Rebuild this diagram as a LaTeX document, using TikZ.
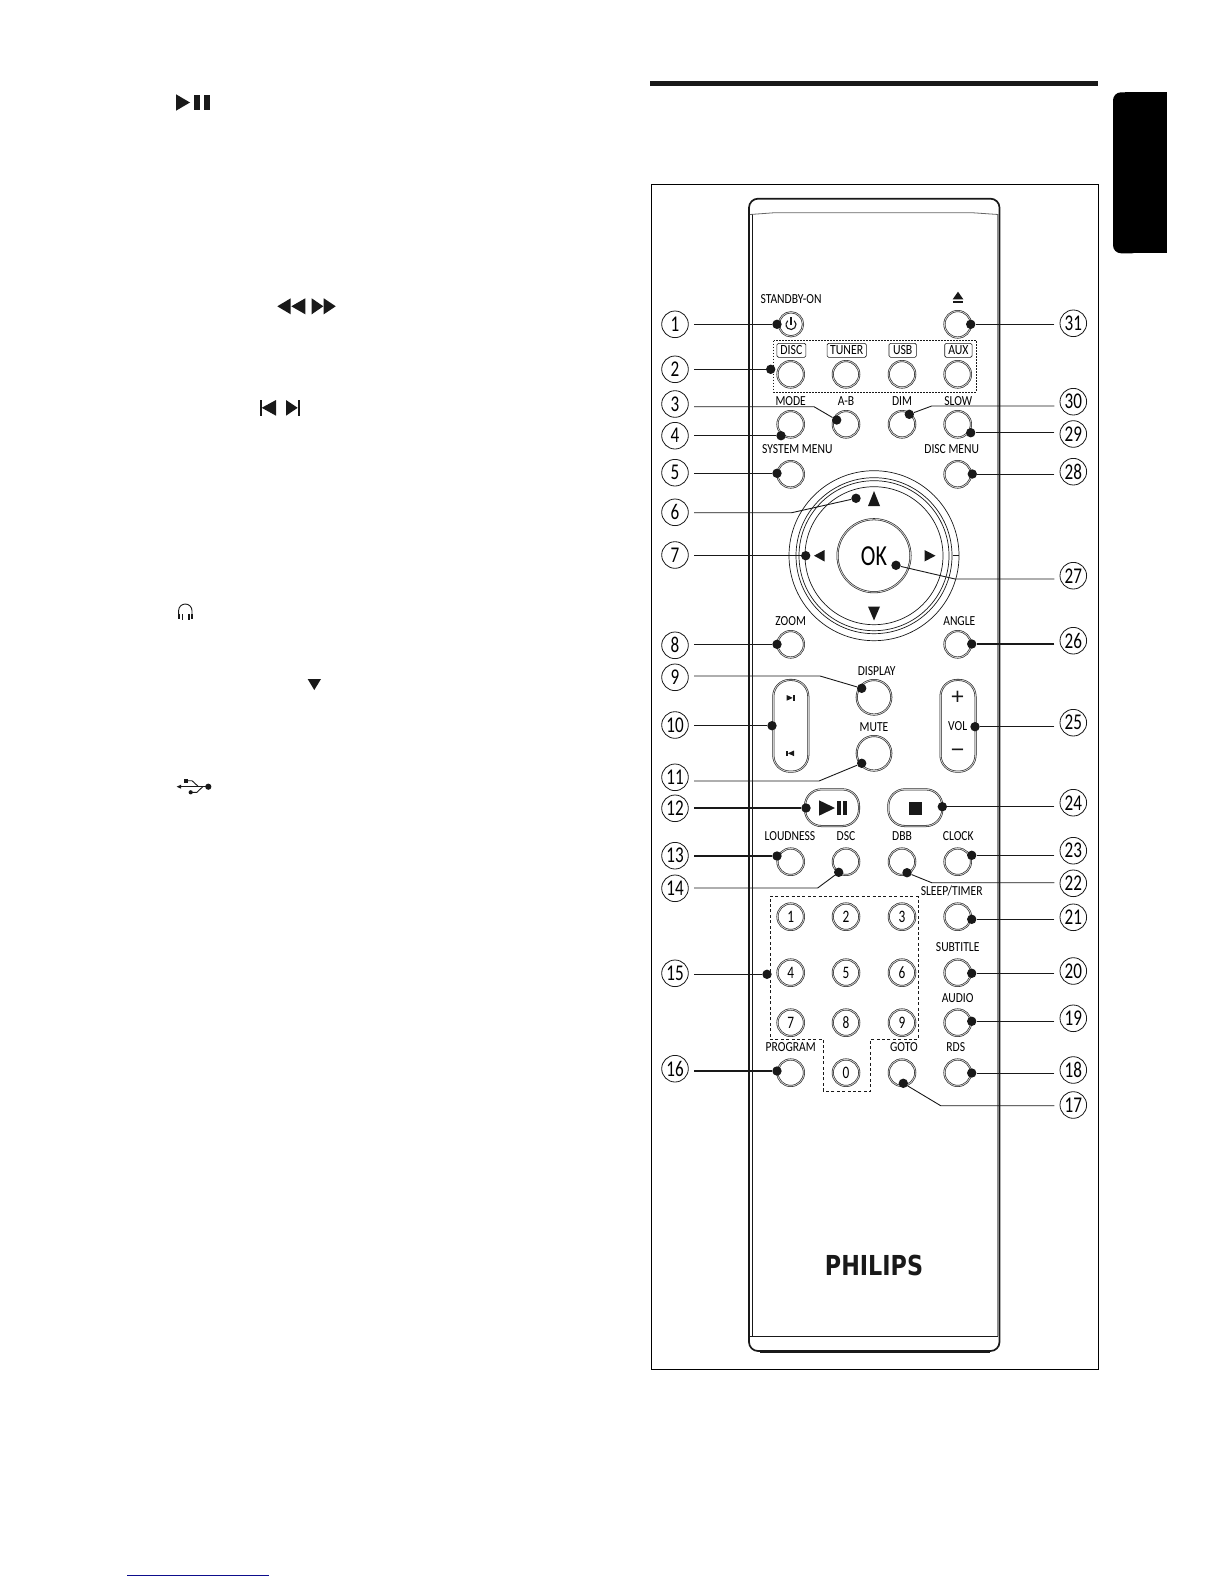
\documentclass[tikz,border=0pt]{standalone}
\usepackage{fontspec}
\usetikzlibrary{positioning}
\newfontfamily\lblfont[FakeStretch=0.84]{Carlito}
\newfontfamily\numfont[FakeStretch=0.76]{Carlito}
\newfontfamily\logofont[FakeStretch=0.81]{DejaVu Sans}
\newfontfamily\signfont{Liberation Sans}
\definecolor{ink}{gray}{0.1}
\definecolor{linkblue}{rgb}{0.05,0.05,0.55}
\tikzset{
  btn/.style={
    shape = circle,
    draw = ink,
    double = black!20,
    double distance = 0.9pt,
    line width = 0.55pt,
    inner sep = 0pt,
    minimum size = 26.5pt
  },
  pill/.style={
    shape = rectangle,
    draw = ink,
    double = black!20,
    double distance = 0.9pt,
    line width = 0.55pt,
    rounded corners = 16.5pt,
    inner sep = 0pt
  },
  ring/.style={
    shape = circle,
    draw = ink,
    line width = 0.7pt,
    inner sep = 0pt
  },
  tag/.style={
    shape = rectangle,
    draw = ink,
    line width = 0.6pt,
    rounded corners = 1.5pt,
    inner sep = 0pt,
    minimum height = 14pt,
    font = \lblfont\fontsize{14}{14}\selectfont
  },
  callout/.style={
    shape = circle,
    draw = ink,
    line width = 0.8pt,
    inner sep = 0pt,
    minimum size = 26.6pt,
    outer sep = 5.7pt,
    font = \numfont\fontsize{22.5}{22.5}\selectfont
  },
  leaddot/.style={
    shape = circle,
    fill = ink,
    inner sep = 0pt,
    minimum size = 9.4pt
  },
  leader/.style={
    draw = ink,
    line width = 0.9pt
  },
  leaderb/.style={
    draw = ink,
    line width = 1.4pt
  },
  glyph/.style={
    fill = ink
  },
  keyfont/.style={
    font = \numfont\fontsize{17.5}{17.5}\selectfont
  },
  btnlabel/.style={
    inner sep = 0pt,
    text height = 8.5pt,
    text depth = 0pt,
    label distance = 7pt,
    font = \lblfont\fontsize{13.8}{13.8}\selectfont
  },
}
\begin{document}
\begin{tikzpicture}[x=1pt,y=-1pt]
\useasboundingbox (0,0) rectangle (1224,1584);
\fill[ink] (650,81) rectangle (1098,85.7);
\fill[black,rounded corners=8pt] (1113,92.3) rectangle (1140,253.3);
\fill[black] (1125,92.3) rectangle (1167.3,253.3);
\draw[line width=1pt] (651.7,184) rectangle (1098.5,1369.6);
\draw[linkblue,line width=1pt] (127,1575) -- (269,1575);
% page icons
\fill[glyph] (176,94.3) -- (190,102.5) -- (176,110.7) -- cycle;
\fill[glyph] (194.3,95) rectangle (200,110);
\fill[glyph] (204,95) rectangle (210,110);
\fill[glyph] (277.3,306.3) -- (290.7,298.3) -- (290.7,314.3) -- cycle;
\fill[glyph] (291.3,306.3) -- (305.3,298.3) -- (305.3,314.3) -- cycle;
\fill[glyph] (311.7,298.3) -- (323.3,306.3) -- (311.7,314.3) -- cycle;
\fill[glyph] (323.7,298.3) -- (335.7,306.3) -- (323.7,314.3) -- cycle;
\fill[glyph] (260.3,400) rectangle (261.7,415.7);
\fill[glyph] (261.7,407.8) -- (276,400) -- (276,415.7) -- cycle;
\fill[glyph] (286,400) -- (297.7,407.8) -- (286,415.7) -- cycle;
\fill[glyph] (297.7,400) rectangle (300,415.7);
\draw[ink,line width=0.9pt] (178.6,614) -- (178.6,610.7) arc (180:360:6.7) -- (192,614);
\fill[glyph] (177.7,614) rectangle (180,618.5);
\fill[glyph] (181.5,613.5) rectangle (182,620);
\fill[glyph] (188,613.5) rectangle (190,620);
\fill[glyph] (191,614) rectangle (193.3,618.5);
\fill[glyph] (307.7,679) -- (321,679) -- (314.3,690) -- cycle;
\draw[ink,line width=0.9pt] (180,786.7) -- (208,786.7);
\fill[glyph] (176.7,786.7) -- (181,784.7) -- (181,788.7) -- cycle;
\fill[glyph] (208.3,786.7) circle (3.1);
\fill[glyph] (183.5,778.6) rectangle (187.9,782.8);
\fill[glyph] (190.7,792.3) circle (2.1);
\draw[ink,line width=0.9pt] (186,780.7) -- (192,780.7) -- (198.5,786.7);
\draw[ink,line width=0.9pt] (190.7,792.3) -- (197,792.3) -- (202.7,786.7);
% remote body
\draw[ink,line width=1.7pt,rounded corners=9pt] (749,198.7) rectangle (999.5,1351);
\draw[ink,line width=2.4pt] (760,1351.4) -- (990,1351.4);
\draw[black!45,line width=2pt] (997.6,214) -- (997.6,1336);
\draw[ink,line width=0.6pt] (752,214) -- (752,1336.7);
\draw[black!60,line width=0.8pt] (750,214.5) -- (775,212.7) -- (971.7,212.7) -- (998,214.5);
\draw[ink,line width=0.8pt] (750,1336.7) -- (998,1336.7);
\node[inner sep=0pt, font=\logofont\bfseries\fontsize{27.5}{27.5}\selectfont, text=ink] (logo) at (874,1265) {PHILIPS};
% direction pad
\foreach \d in {170,156,150,138}{
  \node[ring, minimum size=\d pt] (ring\d) at (874,555.7) {};
}
\draw[ink,line width=0.7pt] (952.7,555.3) -- (959,555.3);
\node[btn, minimum size=73pt, font=\numfont\fontsize{29}{29}\selectfont] (ok) at (874,555.7) {OK};
\fill[glyph] (868,506) -- (874,491) -- (880,506) -- cycle;
\fill[glyph] (868,606.5) -- (880,606.5) -- (874,620.5) -- cycle;
\fill[glyph] (814,555.7) -- (824.5,550) -- (824.5,561.5) -- cycle;
\fill[glyph] (924.5,550) -- (935.5,555.7) -- (924.5,561.5) -- cycle;
% buttons
\foreach \nm/\x/\y/\txt/\dx/\dy in {mode/790.7/424.3/MODE/0/-1.7, ab/846/424.3/A-B/0/-1.7, dim/902/424.3/DIM/0/-1.7, slow/957.7/424.3/SLOW/0.6/-1.7,
  sysmenu/790.7/474.3/SYSTEM MENU/6.6/0, discmenu/957.7/474.3/DISC MENU/-6/0,
  zoom/790.7/644.3/ZOOM/0/-1.7, angle/957.7/644.3/ANGLE/1.6/-1.7,
  loud/790.7/861.7/LOUDNESS/-0.7/0, dsc/846/861.7/DSC/0/0, dbb/902/861.7/DBB/0/0, clock/957.7/861.7/CLOCK/0.6/0,
  sleep/957.7/916.7/{SLEEP/TIMER}/-6/0.7, subtitle/957.7/972.7/SUBTITLE/0/0, audio/957.7/1022.7/AUDIO/0/-0.6,
  program/790.7/1072.7/PROGRAM/0/0, goto/902/1072.7/GOTO/2/0, rds/957.7/1072.7/RDS/-2/0}{
  \node[btn, label={[btnlabel, name=\nm-l, xshift=\dx pt, yshift=\dy pt]above:\txt}] (\nm) at (\x,\y) {};
}
\foreach \nm/\x/\txt/\w in {disc/790.7/DISC/29, tuner/846/TUNER/39.3, usb/902/USB/27.4, aux/957.7/AUX/27.4}{
  \node[btn] (\nm) at (\x,374.3) {};
  \node[tag, minimum width=\w pt, xshift=0.7pt] (\nm-t) at (\x,350.3) {\txt};
}
\foreach \nm/\x/\y in {1/790.7/916.7, 2/846/916.7, 3/902/916.7, 4/790.7/972.7, 5/846/972.7, 6/902/972.7, 7/790.7/1022.7, 8/846/1022.7, 9/902/1022.7, 0/846/1072.7}{
  \node[btn, keyfont] (key\nm) at (\x,\y) {\nm};
}
\node[btnlabel] (standby-l) at (791,299.3) {STANDBY-ON};
\node[btn, minimum size=24pt] (power) at (791,324.3) {};
\draw[ink,line width=1.1pt] (794.2,320.7) arc (-50:230:5);
\draw[ink,line width=1.1pt] (791,317) -- (791,325);
\node[btn] (eject) at (957.7,324.3) {};
\fill[glyph] (952.7,299.3) -- (958,291.7) -- (963.3,299.3) -- cycle;
\fill[glyph] (952.7,300.7) rectangle (963.3,302.7);
\node[btn, minimum size=34.6pt, label={[btnlabel, name=display-l, xshift=2.7pt, yshift=-3.3pt]above:DISPLAY}] (display) at (874,697.3) {};
\node[btn, minimum size=34.6pt, label={[btnlabel, name=mute-l, yshift=-3.3pt]above:MUTE}] (mute) at (874,753.3) {};
\node[pill, minimum width=35pt, minimum height=91.7pt] (skip) at (790.8,725.8) {};
\node[pill, minimum width=35pt, minimum height=91.7pt] (vol) at (958,725.8) {};
\node[pill, minimum width=54pt, minimum height=36.7pt] (play) at (832,807.7) {};
\node[pill, minimum width=54pt, minimum height=36.7pt] (stop) at (915.3,807.7) {};
\fill[glyph] (786.7,695) -- (792.7,697.9) -- (786.7,700.7) -- cycle;
\fill[glyph] (793.3,695) rectangle (795.3,700.7);
\fill[glyph] (786,750.5) rectangle (788,756.2);
\fill[glyph] (788,753.3) -- (794,750.5) -- (794,756.2) -- cycle;
\node[inner sep=0pt, font=\signfont\fontsize{23}{23}\selectfont, text=ink] (plus) at (957.7,697.7) {+};
\node[inner sep=0pt, font=\signfont\fontsize{23}{23}\selectfont, text=ink] (minus) at (957.7,753.7) {−};
\node[inner sep=0pt, font=\lblfont\fontsize{13.8}{13.8}\selectfont] (vol-l) at (957.7,726) {VOL};
\fill[glyph] (819,800.3) -- (835,808) -- (819,815.7) -- cycle;
\fill[glyph] (836.7,800.7) rectangle (840.7,815.3);
\fill[glyph] (843,800.7) rectangle (847,815.3);
\fill[glyph] (909,801.7) rectangle (922.3,815);
\draw[ink,line width=0.8pt,dash pattern=on 1.6pt off 1.4pt] (773.7,340.7) rectangle (976.3,392);
\draw[ink,line width=0.7pt,dash pattern=on 3pt off 2.4pt] (770,896.7) -- (918.3,896.7) -- (918.3,1039) -- (870.7,1039) -- (870.7,1091) -- (823.3,1091) -- (823.3,1039) -- (770,1039) -- cycle;
% straight leaders
\foreach \n/\cx/\side/\ny/\dx/\dy/\w in {1/675/east/324.3/777/324.3/leader, 2/675/east/369.3/770.7/369.3/leader, 4/675/east/435.7/781/435.7/leaderb,
  5/675/east/472.7/777/473.3/leader, 7/675/east/555/805.7/555.7/leaderb, 8/675/east/645.3/777/644.3/leader,
  10/675/east/725/772/725.7/leader, 12/675/east/808.3/806/808/leaderb, 13/675/east/855.7/777/856/leaderb,
  15/675/east/973.3/767/974.3/leader, 16/675/east/1068.7/777/1071/leaderb,
  31/1073.3/west/323.3/970.7/324.3/leader, 29/1073.3/west/434/970.7/432.7/leaderb, 28/1073.3/west/471.7/972.3/474/leader,
  26/1073.3/west/640.7/971.7/644/leaderb, 25/1073.3/west/722.7/975/726.7/leaderb, 24/1073.3/west/802.7/942.3/806.7/leaderb,
  23/1073.3/west/850.7/971.7/855.3/leader, 21/1073.3/west/917.3/971.7/919.3/leader, 20/1073.3/west/971/971.7/973.3/leader,
  19/1073.3/west/1018.3/971.7/1021.3/leader, 18/1073.3/west/1070/971.7/1073/leader}{
  \node[callout] (c\n) at (\cx,\ny) {\n};
  \node[leaddot] (d\n) at (\dx,\dy) {};
  \draw[\w] (c\n.\side |- d\n) -- (d\n);
}
% bent leaders
\foreach \n/\cx/\side/\ny/\bx/\by/\dx/\dy in {3/675/east/404/814/406.7/836.7/420, 6/675/east/512.3/791.7/512.7/856/498.3,
  9/675/east/677.3/820/676/861.7/688.3, 11/675/east/777.3/819/781/861.7/763.3, 14/675/east/888.3/817.7/888/838.7/872.3,
  30/1073.3/west/401.7/931.7/406/909.3/414.3, 27/1073.3/west/575.7/955/579/896/565.3,
  22/1073.3/west/883.3/931.7/882.7/907/872.7, 17/1073.3/west/1105/940.7/1105.7/903.3/1083.3}{
  \node[callout] (c\n) at (\cx,\ny) {\n};
  \node[leaddot] (d\n) at (\dx,\dy) {};
  \coordinate (b\n) at (\bx,\by);
  \draw[leader] (c\n.\side |- b\n) -- (b\n) -- (d\n);
}
\end{tikzpicture}
\end{document}
